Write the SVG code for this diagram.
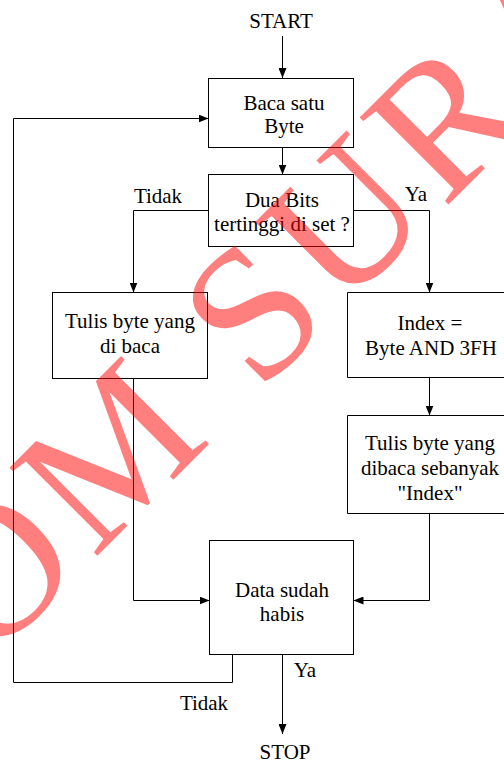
<svg xmlns="http://www.w3.org/2000/svg" width="504" height="763" viewBox="0 0 504 763">
<style>
.box{fill:#fff;stroke:#000;stroke-width:1}
.conn{fill:none;stroke:#000;stroke-width:1}
text{font-family:"Liberation Serif","Times New Roman",serif;font-size:21px;fill:#000}
.c{text-anchor:middle}
.wm{font-size:190px;fill:#ff0000;fill-opacity:0.5;letter-spacing:9px}
</style>
<defs>
<marker id="ah" markerUnits="userSpaceOnUse" markerWidth="10" markerHeight="8" refX="10" refY="4" orient="auto">
<path d="M0,0 L10,4 L0,8 z" fill="#000"/>
</marker>
</defs>
<g id="connectors">
<path class="conn" d="M282.5,36 V78" marker-end="url(#ah)"/>
<path class="conn" d="M282.5,148 V174.5" marker-end="url(#ah)"/>
<path class="conn" d="M208.5,210.5 H133.5 V292.5" marker-end="url(#ah)"/>
<path class="conn" d="M353.5,210.5 H429.5 V292.5" marker-end="url(#ah)"/>
<path class="conn" d="M429.5,377.5 V415.5" marker-end="url(#ah)"/>
<path class="conn" d="M133.5,378.5 V600.5 H209.5" marker-end="url(#ah)"/>
<path class="conn" d="M429.5,513.5 V600.5 H353.5" marker-end="url(#ah)"/>
<path class="conn" d="M232.5,654.5 V682.5 H13.5 V118.5 H208.5" marker-end="url(#ah)"/>
<path class="conn" d="M282.5,654.5 V734" marker-end="url(#ah)"/>
<text class="c" x="158" y="203">Tidak</text>
<text class="c" x="416" y="201">Ya</text>
<text class="c" x="305" y="677">Ya</text>
<text class="c" x="204" y="710">Tidak</text>
</g>
<g id="start"><text class="c" x="281" y="28">START</text></g>
<g id="baca">
<rect class="box" x="208.5" y="78.5" width="145" height="69"/>
<text class="c" x="284" y="110">Baca satu</text>
<text class="c" x="284" y="133">Byte</text>
</g>
<g id="cek">
<rect class="box" x="208.5" y="174.5" width="145" height="72"/>
<text class="c" x="282" y="207">Dua Bits</text>
<text class="c" x="282" y="231">tertinggi di set ?</text>
</g>
<g id="tulis1">
<rect class="box" x="52.5" y="292.5" width="155" height="86"/>
<text class="c" x="130" y="328">Tulis byte yang</text>
<text class="c" x="130" y="353">di baca</text>
</g>
<g id="index">
<path class="box" d="M504,292.5 H347.5 V377.5 H504"/>
<text class="c" x="430" y="330">Index =</text>
<text class="c" x="431" y="355">Byte AND 3FH</text>
</g>
<g id="tulis2">
<path class="box" d="M504,415.5 H347.5 V513.5 H504"/>
<text class="c" x="430" y="450">Tulis byte yang</text>
<text class="c" x="430" y="475">dibaca sebanyak</text>
<text class="c" x="430" y="500">"Index"</text>
</g>
<g id="habis">
<rect class="box" x="209.5" y="540.5" width="144" height="114"/>
<text class="c" x="282" y="597">Data sudah</text>
<text class="c" x="282" y="621">habis</text>
</g>
<g id="stop"><text class="c" x="285" y="759">STOP</text></g>
<text class="wm" transform="translate(-10,663) rotate(-45)">OM SURA</text>
</svg>
